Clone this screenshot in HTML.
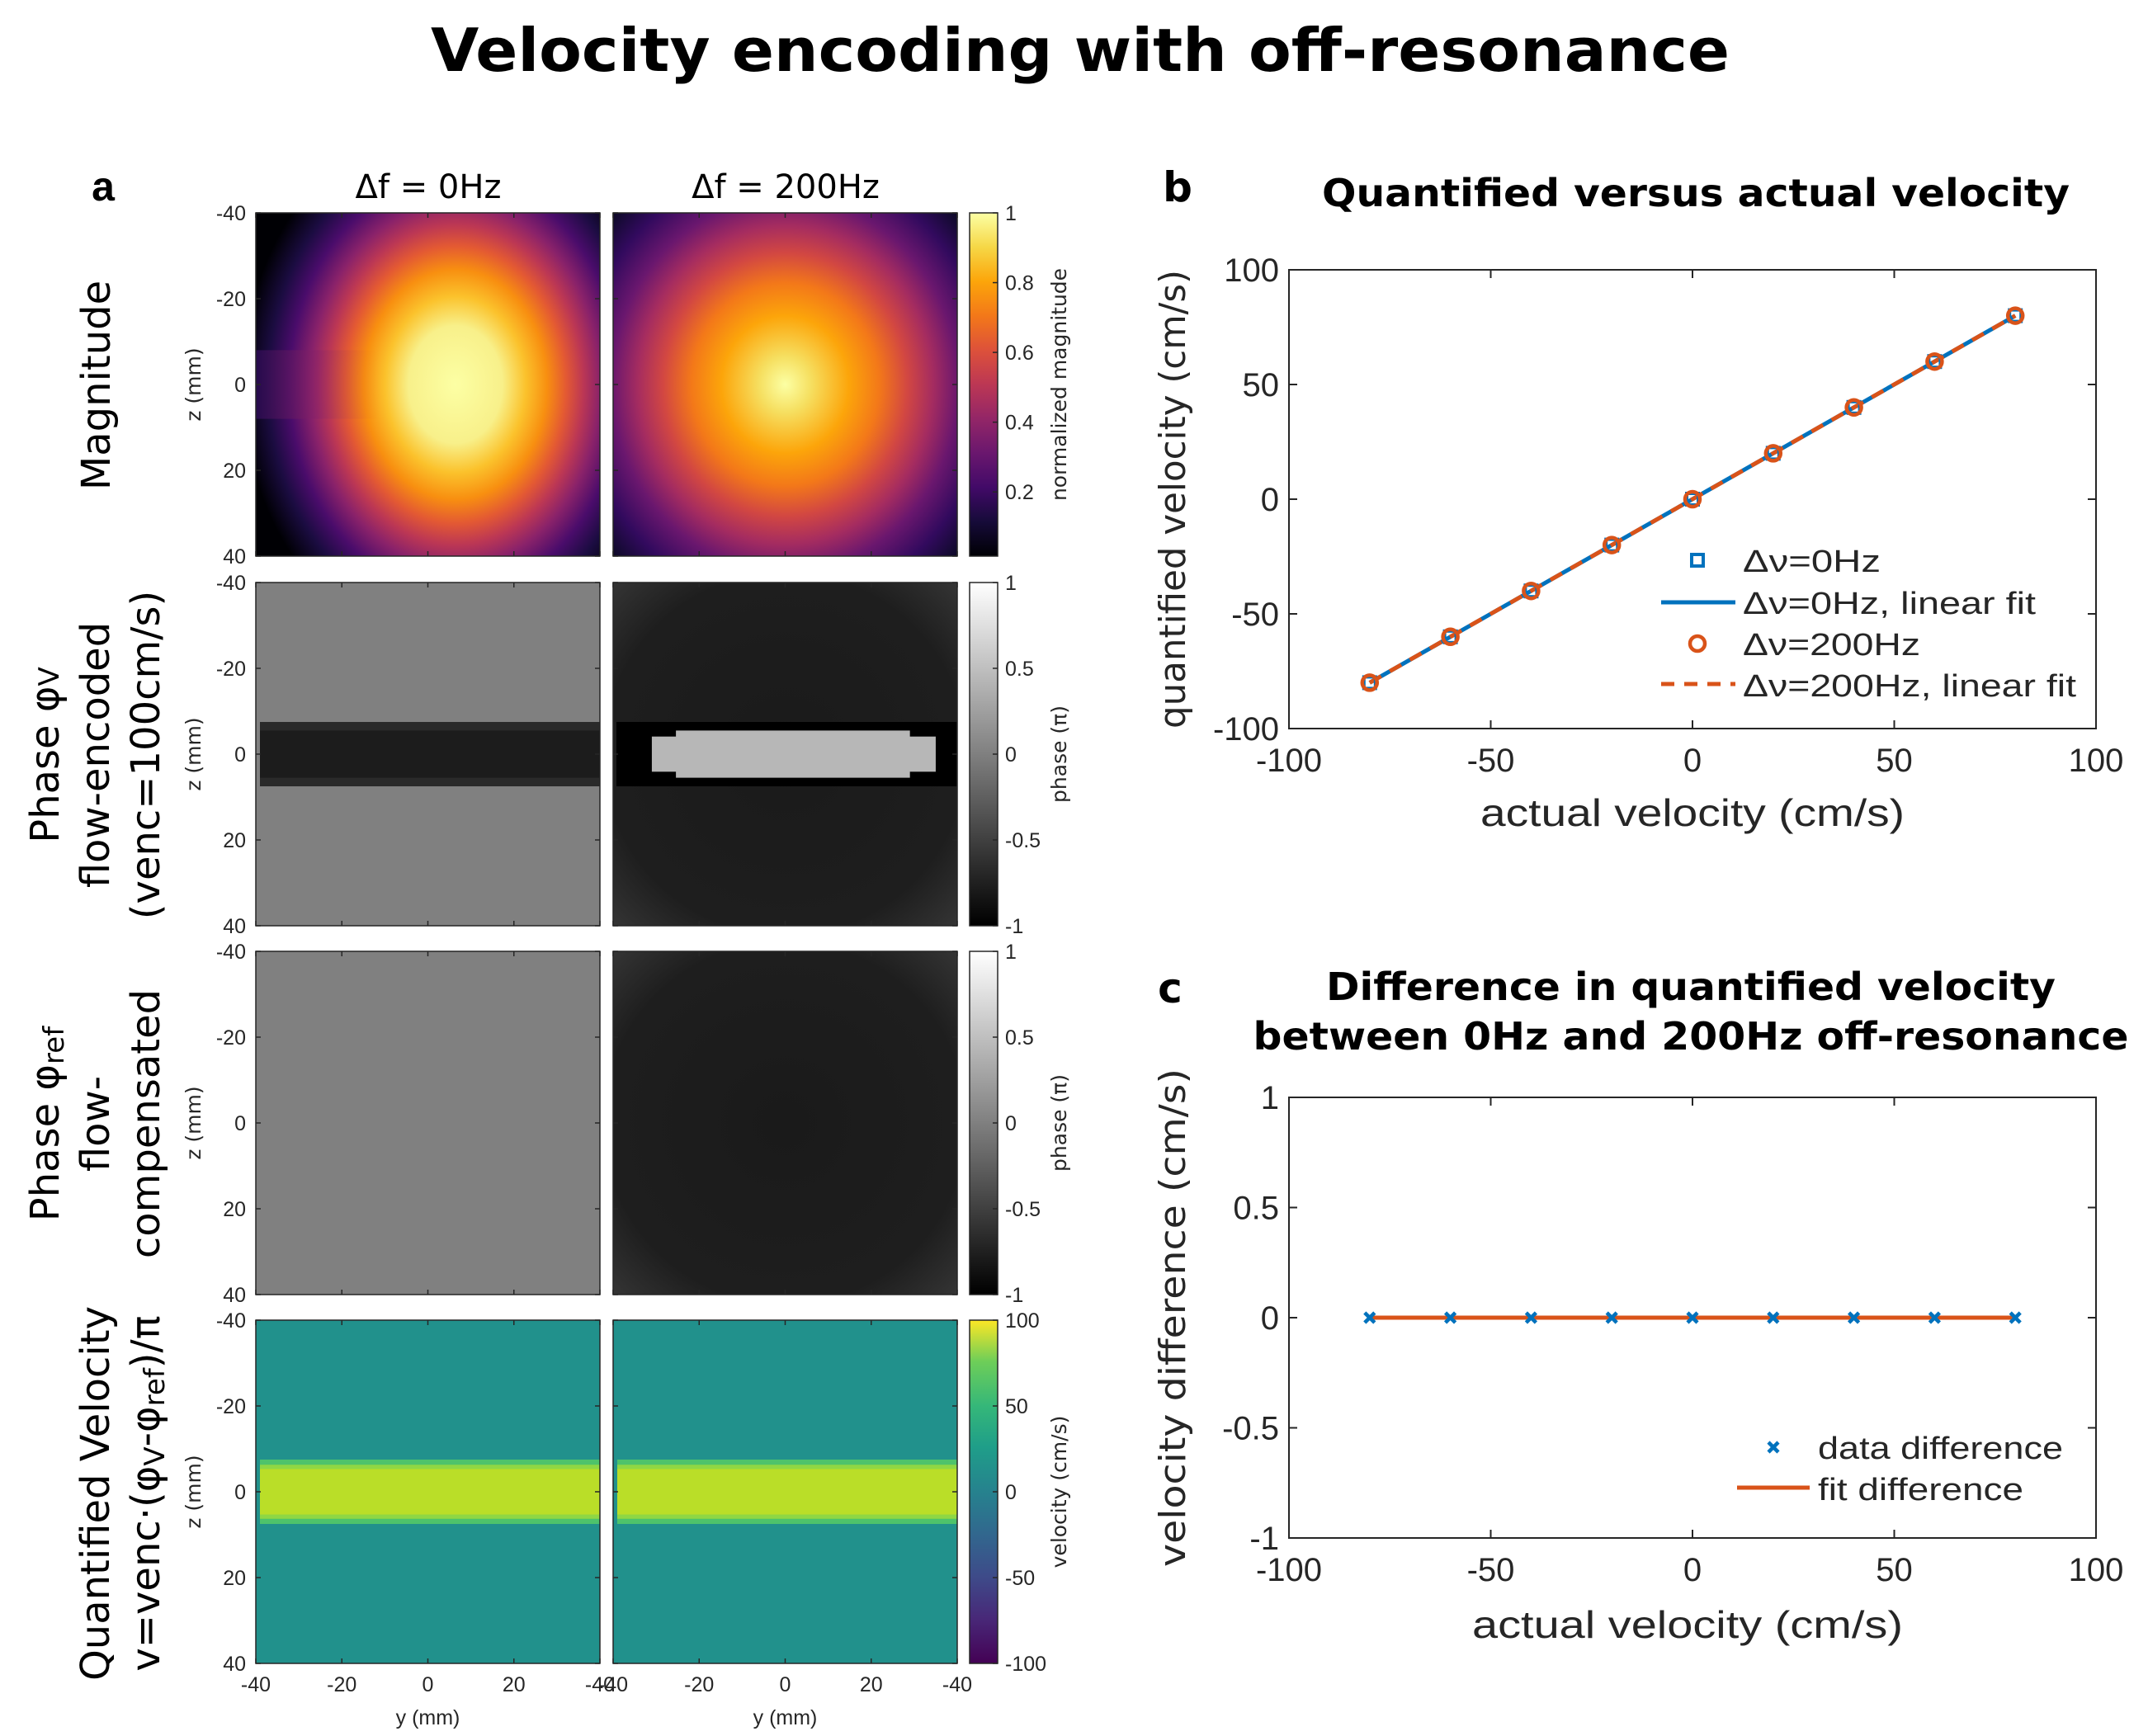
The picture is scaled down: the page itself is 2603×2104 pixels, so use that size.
<!DOCTYPE html>
<html><head><meta charset="utf-8">
<style>
html,body{margin:0;padding:0;background:#fff;}
svg{display:block;font-family:"Liberation Sans","DejaVu Sans",sans-serif;}
.tk{font-size:25px;fill:#262626;}
.tkb{font-size:40px;fill:#262626;}
.dj{font-family:"DejaVu Sans","Liberation Sans",sans-serif;}
</style></head>
<body>
<svg id="fig" width="2603" height="2104" viewBox="0 0 2603 2104" xmlns="http://www.w3.org/2000/svg">
<defs>
<radialGradient id="mag0" cx="0.58" cy="0.5" r="0.72" gradientTransform="translate(0.58,0.5) scale(0.86,1.08) translate(-0.58,-0.5)">
<stop offset="0" stop-color="#fcffa4"/><stop offset="0.22" stop-color="#f8f08a"/><stop offset="0.33" stop-color="#fbc22c"/><stop offset="0.43" stop-color="#f88f10"/><stop offset="0.52" stop-color="#e35933"/><stop offset="0.6" stop-color="#bc3754"/><stop offset="0.68" stop-color="#8a226a"/><stop offset="0.78" stop-color="#4a0c6b"/><stop offset="0.88" stop-color="#1b0c41"/><stop offset="1" stop-color="#000004"/>
</radialGradient>
<linearGradient id="notch" x1="0" y1="0" x2="1" y2="0">
<stop offset="0" stop-color="#2a0b54" stop-opacity="0.85"/><stop offset="0.5" stop-color="#8a226a" stop-opacity="0.5"/><stop offset="1" stop-color="#f37819" stop-opacity="0"/>
</linearGradient>
<radialGradient id="mag1" cx="0.5" cy="0.5" r="0.74" gradientTransform="translate(0.5,0.5) scale(1,1.08) translate(-0.5,-0.5)">
<stop offset="0" stop-color="#fcffa4"/><stop offset="0.1" stop-color="#f6e062"/><stop offset="0.25" stop-color="#fca50a"/><stop offset="0.37" stop-color="#f37819"/><stop offset="0.48" stop-color="#d24742"/><stop offset="0.58" stop-color="#a52c60"/><stop offset="0.68" stop-color="#6a176e"/><stop offset="0.8" stop-color="#320a5e"/><stop offset="0.9" stop-color="#120a2f"/><stop offset="1" stop-color="#000004"/>
</radialGradient>
<radialGradient id="ph1" cx="0.5" cy="0.5" r="0.75">
<stop offset="0" stop-color="#1a1a1a"/><stop offset="0.7" stop-color="#1e1e1e"/><stop offset="1" stop-color="#3a3a3a"/>
</radialGradient>
<linearGradient id="cbInf" x1="0" y1="1" x2="0" y2="0">
<stop offset="0" stop-color="#000004"/><stop offset="0.1" stop-color="#160b39"/><stop offset="0.2" stop-color="#420a68"/><stop offset="0.3" stop-color="#6a176e"/><stop offset="0.4" stop-color="#932667"/><stop offset="0.5" stop-color="#bc3754"/><stop offset="0.6" stop-color="#dd513a"/><stop offset="0.7" stop-color="#f37819"/><stop offset="0.8" stop-color="#fca50a"/><stop offset="0.9" stop-color="#f6d746"/><stop offset="1" stop-color="#fcffa4"/>
</linearGradient>
<linearGradient id="cbGray" x1="0" y1="1" x2="0" y2="0"><stop offset="0" stop-color="#000"/><stop offset="1" stop-color="#fff"/></linearGradient>
<linearGradient id="cbVir" x1="0" y1="1" x2="0" y2="0">
<stop offset="0" stop-color="#440154"/><stop offset="0.13" stop-color="#482878"/><stop offset="0.25" stop-color="#3e4a89"/><stop offset="0.38" stop-color="#31688e"/><stop offset="0.5" stop-color="#26828e"/><stop offset="0.63" stop-color="#1f9e89"/><stop offset="0.75" stop-color="#35b779"/><stop offset="0.88" stop-color="#6ece58"/><stop offset="1" stop-color="#fde725"/>
</linearGradient>
</defs>

<text class="dj" x="1309" y="86" text-anchor="middle" font-size="72" font-weight="bold" fill="#000" textLength="1574" lengthAdjust="spacingAndGlyphs">Velocity encoding with off-resonance</text>

<!-- Panel a -->
<text x="125" y="243" text-anchor="middle" font-size="50" font-weight="bold">a</text>
<text class="dj" x="519" y="240" text-anchor="middle" font-size="40" fill="#000">Δf = 0Hz</text>
<text class="dj" x="952" y="240" text-anchor="middle" font-size="40" fill="#000">Δf = 200Hz</text>

<text class="dj" transform="translate(133,467) rotate(-90)" text-anchor="middle" font-size="48">Magnitude</text>
<text class="dj" transform="translate(0,915) rotate(-90)" text-anchor="middle" font-size="48">
<tspan x="0" y="71">Phase φ<tspan font-size="34">V</tspan></tspan><tspan x="0" y="132">flow-encoded</tspan><tspan x="0" y="193">(venc=100cm/s)</tspan></text>
<text class="dj" transform="translate(0,1362) rotate(-90)" text-anchor="middle" font-size="48">
<tspan x="0" y="71">Phase φ<tspan font-size="34" dy="6">ref</tspan></tspan><tspan x="0" y="132">flow-</tspan><tspan x="0" y="193">compensated</tspan></text>
<text class="dj" transform="translate(0,1810) rotate(-90)" text-anchor="middle" font-size="48">
<tspan x="0" y="132">Quantified Velocity</tspan><tspan x="0" y="193">v=venc·(φ<tspan font-size="34" dy="6">V</tspan><tspan dy="-6">-φ</tspan><tspan font-size="34" dy="6">ref</tspan><tspan dy="-6">)/π</tspan></tspan></text>

<g id="heatmaps"></g>
<g id="chartB"></g>
<g id="chartC"></g>
</svg>
<script>
const NS='http://www.w3.org/2000/svg';
function mk(tag,attrs,parent,txt){const e=document.createElementNS(NS,tag);for(const k in attrs)e.setAttribute(k,attrs[k]);if(txt!==undefined)e.textContent=txt;parent.appendChild(e);return e;}

// ---------- Panel a heatmaps ----------
const zTicks=[-40,-20,0,20,40];
const yTickLabels=['-40','-20','0','20','-40'];
const colX=[310,743], colW=417;
const rowY=[258,706,1153,1600], rowH=416;
const cbX=1175, cbW=34;
const bandHalfMm=[7.5];
const cbMagTicks=[0.2,0.4,0.6,0.8,1];
const cbPhaseTicks=[-1,-0.5,0,0.5,1];
const cbVelTicks=[-100,-50,0,50,100];
const hm=document.getElementById('heatmaps');
function zPix(r,z){return rowY[r]+(z+40)/80*rowH;}
function yPix(c,y){return colX[c]+(y+40)/80*colW;}

for(let r=0;r<4;r++){
  for(let c=0;c<2;c++){
    const g=mk('g',{},hm);
    
    
    const x=colX[c],y=rowY[r];
    if(r===0){
      mk('rect',{x:x,y:y,width:colW,height:rowH,fill:c===0?'url(#mag0)':'url(#mag1)'},g);
      if(c===0){
        mk('rect',{x:x,y:zPix(0,-8),width:colW*0.36,height:zPix(0,8)-zPix(0,-8),fill:'url(#notch)'},g);
      }
    } else if(r===1){
      if(c===0){
        mk('rect',{x:x,y:y,width:colW,height:rowH,fill:'#808080'},g);
        mk('rect',{x:x+5,y:zPix(1,-bandHalfMm[0]),width:colW-5,height:zPix(1,bandHalfMm[0])-zPix(1,-bandHalfMm[0]),fill:'#2a2a2a'},g);
        mk('rect',{x:x+5,y:zPix(1,-5.5),width:colW-5,height:zPix(1,5.5)-zPix(1,-5.5),fill:'#1c1c1c'},g);
      } else {
        mk('rect',{x:x,y:y,width:colW,height:rowH,fill:'url(#ph1)'},g);
        mk('rect',{x:x+4,y:zPix(1,-bandHalfMm[0]),width:colW-4,height:zPix(1,bandHalfMm[0])-zPix(1,-bandHalfMm[0]),fill:'#000'},g);
        mk('rect',{x:yPix(1,-31),y:zPix(1,-4.1),width:yPix(1,35)-yPix(1,-31),height:zPix(1,4.1)-zPix(1,-4.1),fill:'#b7b7b7'},g);
        mk('rect',{x:yPix(1,-25.4),y:zPix(1,-5.5),width:yPix(1,29)-yPix(1,-25.4),height:zPix(1,5.5)-zPix(1,-5.5),fill:'#b7b7b7'},g);
      }
    } else if(r===2){
      mk('rect',{x:x,y:y,width:colW,height:rowH,fill:c===0?'#808080':'url(#ph1)'},g);
    } else {
      mk('rect',{x:x,y:y,width:colW,height:rowH,fill:'#21918c'},g);
      mk('rect',{x:x+5,y:zPix(3,-bandHalfMm[0]),width:colW-5,height:zPix(3,bandHalfMm[0])-zPix(3,-bandHalfMm[0]),fill:'#4ec36b'},g);
      mk('rect',{x:x+5,y:zPix(3,-6.3),width:colW-5,height:zPix(3,6.3)-zPix(3,-6.3),fill:'#8fd744'},g);
      mk('rect',{x:x+5,y:zPix(3,-5.3),width:colW-5,height:zPix(3,5.3)-zPix(3,-5.3),fill:'#bade28'},g);
    }
    mk('rect',{x:x,y:y,width:colW,height:rowH,fill:'none',stroke:'#262626','stroke-width':1.5},g);
    zTicks.forEach(t=>{const py=zPix(r,t);mk('line',{x1:x,x2:x+6,y1:py,y2:py,stroke:'#262626','stroke-width':1.5},g);mk('line',{x1:x+colW-6,x2:x+colW,y1:py,y2:py,stroke:'#262626','stroke-width':1.5},g);});
    zTicks.forEach(t=>{const px=yPix(c,t);mk('line',{x1:px,x2:px,y1:y,y2:y+6,stroke:'#262626','stroke-width':1.5},g);mk('line',{x1:px,x2:px,y1:y+rowH-6,y2:y+rowH,stroke:'#262626','stroke-width':1.5},g);});
  }
  zTicks.forEach(t=>{
    const l=mk('text',{x:298,y:zPix(r,t)+9,'text-anchor':'end',class:'tk'},hm,String(t));
    
    
  });
  const zl=mk('text',{transform:'translate(243,'+(rowY[r]+rowH/2)+') rotate(-90)','text-anchor':'middle',class:'tk dj','font-size':'23'},hm,'z (mm)');
  
  
  const cb=mk('g',{},hm);
  
  
  const fill=r===0?'url(#cbInf)':(r===3?'url(#cbVir)':'url(#cbGray)');
  mk('rect',{x:cbX,y:rowY[r],width:cbW,height:rowH,fill:fill,stroke:'#262626','stroke-width':1.5},cb);
  let ticks,lab,lo,hi;
  if(r===0){ticks=cbMagTicks;lo=0.016;hi=1;lab='normalized magnitude';}
  else if(r===3){ticks=cbVelTicks;lo=-100;hi=100;lab='velocity (cm/s)';}
  else {ticks=cbPhaseTicks;lo=-1;hi=1;lab='phase (π)';}
  ticks.forEach(t=>{
    const py=rowY[r]+rowH-(t-lo)/(hi-lo)*rowH;
    mk('line',{x1:cbX+cbW-6,x2:cbX+cbW,y1:py,y2:py,stroke:'#262626','stroke-width':1.5},cb);
    const l=mk('text',{x:1218,y:py+9,class:'tk'},cb,String(t));
    
    
  });
  const cl=mk('text',{transform:'translate(1292,'+(rowY[r]+rowH/2)+') rotate(-90)','text-anchor':'middle',class:'tk dj','font-size':'23'},cb,lab);
  
  
}
for(let c=0;c<2;c++){
  zTicks.forEach((t,i)=>{
    const l=mk('text',{x:yPix(c,t),y:2050,'text-anchor':'middle',class:'tk'},hm,yTickLabels[i]);
    
    
  });
  const yl=mk('text',{x:colX[c]+colW/2,y:2090,'text-anchor':'middle',class:'tk'},hm,'y (mm)');
  
  
}

// ---------- Chart data ----------
const actualVel=[-80,-60,-40,-20,0,20,40,60,80];
const quant0=[-80,-60,-40,-20,0,20,40,60,80];
const quant200=[-80,-60,-40,-20,0,20,40,60,80];
const fit0=[-80,80];
const fit200=[-80,80];
const xTicksB=[-100,-50,0,50,100];
const yTicksB=[-100,-50,0,50,100];
const diffData=[0,0,0,0,0,0,0,0,0];
const diffFit=[0,0];
const yTicksC=[-1,-0.5,0,0.5,1];

function axes(g,L,R,T,B,xmin,xmax,ymin,ymax,xt,yt){
  const sx=v=>L+(v-xmin)/(xmax-xmin)*(R-L);
  const sy=v=>B-(v-ymin)/(ymax-ymin)*(B-T);
  mk('rect',{x:L,y:T,width:R-L,height:B-T,fill:'#fff',stroke:'#262626','stroke-width':2},g);
  xt.forEach(t=>{const px=sx(t);
    mk('line',{x1:px,x2:px,y1:B,y2:B-10,stroke:'#262626','stroke-width':2},g);
    mk('line',{x1:px,x2:px,y1:T,y2:T+10,stroke:'#262626','stroke-width':2},g);
    const l=mk('text',{x:px,y:B+52,'text-anchor':'middle',class:'tkb'},g,String(t));
    
    
  });
  yt.forEach(t=>{const py=sy(t);
    mk('line',{x1:L,x2:L+10,y1:py,y2:py,stroke:'#262626','stroke-width':2},g);
    mk('line',{x1:R-10,x2:R,y1:py,y2:py,stroke:'#262626','stroke-width':2},g);
    const l=mk('text',{x:L-12,y:py+14,'text-anchor':'end',class:'tkb'},g,String(t));
    
    
  });
  return [sx,sy];
}

// ---------- Chart b ----------
const gb=document.getElementById('chartB');


const bl=mk('text',{x:1427,y:244,'text-anchor':'middle','font-size':50,'font-weight':'bold',class:'dj'},gb,'b');


const bt=mk('text',{x:2055,y:250,'text-anchor':'middle','font-size':46,'font-weight':'bold',class:'dj',textLength:906,lengthAdjust:'spacingAndGlyphs'},gb,'Quantified versus actual velocity');


const [bx,by]=axes(gb,1562,2540,327,883,-100,100,-100,100,xTicksB,yTicksB);
const bxl=mk('text',{x:2051,y:1001,'text-anchor':'middle','font-size':46,fill:'#262626',textLength:514,lengthAdjust:'spacingAndGlyphs'},gb,'actual velocity (cm/s)');


const byl=mk('text',{transform:'translate(1436,605) rotate(-90)','text-anchor':'middle','font-size':44,fill:'#262626',class:'dj',textLength:556,lengthAdjust:'spacingAndGlyphs'},gb,'quantified velocity (cm/s)');


const l0=mk('line',{x1:bx(fit0[0]),y1:by(fit0[0]),x2:bx(fit0[1]),y2:by(fit0[1]),stroke:'#0072bd','stroke-width':5},gb);


const l2=mk('line',{x1:bx(fit200[0]),y1:by(fit200[0]),x2:bx(fit200[1]),y2:by(fit200[1]),stroke:'#d95319','stroke-width':5,'stroke-dasharray':'16 12'},gb);


actualVel.forEach((v,i)=>{
  const s=mk('rect',{x:bx(v)-7,y:by(quant0[i])-7,width:14,height:14,fill:'none',stroke:'#0072bd','stroke-width':4},gb);
  
  
});
actualVel.forEach((v,i)=>{
  const c=mk('circle',{cx:bx(v),cy:by(quant200[i]),r:9,fill:'none',stroke:'#d95319','stroke-width':4.5},gb);
  
  
});
const lgB=mk('g',{},gb);


mk('rect',{x:2050,y:672,width:14,height:14,fill:'none',stroke:'#0072bd','stroke-width':4},lgB);
mk('line',{x1:2013,x2:2103,y1:730,y2:730,stroke:'#0072bd','stroke-width':5},lgB);
mk('circle',{cx:2057,cy:780,r:9,fill:'none',stroke:'#d95319','stroke-width':4.5},lgB);
mk('line',{x1:2013,x2:2103,y1:829,y2:829,stroke:'#d95319','stroke-width':5,'stroke-dasharray':'16 12'},lgB);
const legB=['Δν=0Hz','Δν=0Hz, linear fit','Δν=200Hz','Δν=200Hz, linear fit'];
const legBW=[167,355,215,404];
legB.forEach((t,i)=>{
  const e=mk('text',{x:2112,y:[693,744,794,844][i],'font-size':38,fill:'#262626',textLength:legBW[i],lengthAdjust:'spacingAndGlyphs'},lgB,t);
  
  
});

// ---------- Chart c ----------
const gc=document.getElementById('chartC');


const cl=mk('text',{x:1418,y:1215,'text-anchor':'middle','font-size':50,'font-weight':'bold',class:'dj'},gc,'c');


const ct1=mk('text',{x:2049,y:1212,'text-anchor':'middle','font-size':46,'font-weight':'bold',class:'dj',textLength:884,lengthAdjust:'spacingAndGlyphs'},gc,'Difference in quantified velocity');


const ct2=mk('text',{x:2049,y:1272,'text-anchor':'middle','font-size':46,'font-weight':'bold',class:'dj',textLength:1061,lengthAdjust:'spacingAndGlyphs'},gc,'between 0Hz and 200Hz off-resonance');


const [cx,cy]=axes(gc,1562,2540,1330,1864,-100,100,-1,1,xTicksB,yTicksC);
const cxl=mk('text',{x:2045,y:1985,'text-anchor':'middle','font-size':46,fill:'#262626',textLength:522,lengthAdjust:'spacingAndGlyphs'},gc,'actual velocity (cm/s)');


const cyl=mk('text',{transform:'translate(1436,1597) rotate(-90)','text-anchor':'middle','font-size':44,fill:'#262626',class:'dj',textLength:604,lengthAdjust:'spacingAndGlyphs'},gc,'velocity difference (cm/s)');


const fl=mk('line',{x1:cx(actualVel[0]),y1:cy(diffFit[0]),x2:cx(actualVel[actualVel.length-1]),y2:cy(diffFit[1]),stroke:'#d95319','stroke-width':5},gc);


actualVel.forEach((v,i)=>{
  const px=cx(v),py=cy(diffData[i]);
  const m=mk('path',{d:`M${px-6},${py-6}L${px+6},${py+6}M${px-6},${py+6}L${px+6},${py-6}`,stroke:'#0072bd','stroke-width':4.5},gc);
  
  
});
const lgC=mk('g',{},gc);


mk('path',{d:'M2143,1748L2155,1760M2143,1760L2155,1748',stroke:'#0072bd','stroke-width':4.5},lgC);
mk('line',{x1:2105,x2:2193,y1:1803,y2:1803,stroke:'#d95319','stroke-width':5},lgC);
const e1=mk('text',{x:2203,y:1768,'font-size':38,fill:'#262626',textLength:297,lengthAdjust:'spacingAndGlyphs'},lgC,'data difference');


const e2=mk('text',{x:2203,y:1818,'font-size':38,fill:'#262626',textLength:249,lengthAdjust:'spacingAndGlyphs'},lgC,'fit difference');


</script>
</body></html>
